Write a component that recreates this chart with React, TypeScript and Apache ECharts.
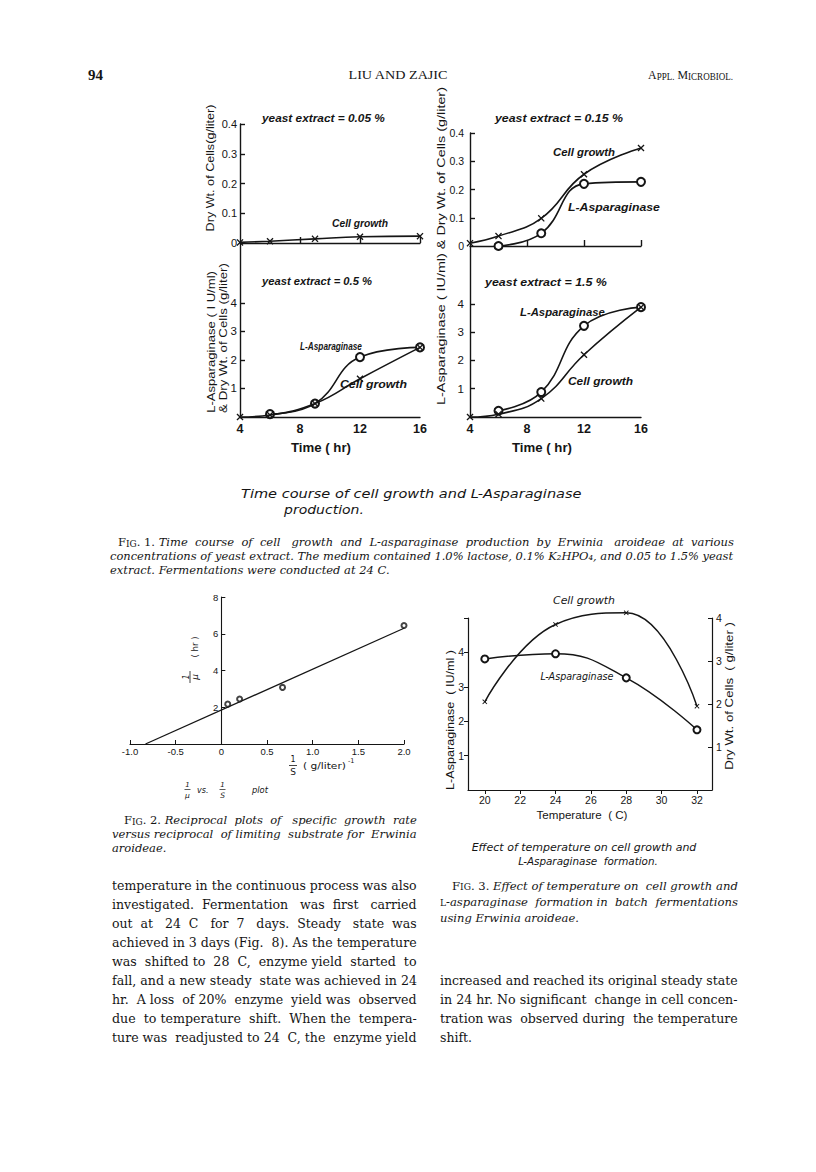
import React, { useEffect, useRef } from "react";
import * as echarts from "echarts";

// ---------------- Figure 1 : time course (yeast extract levels) ----------------
const timeHr = [4, 6, 9, 12, 16];
const aspTimeHr = [6, 9, 12, 16];
const cellYe005 = [0.002, 0.006, 0.014, 0.021, 0.023];
const cellYe05 = [0, 0.07, 0.47, 1.34, 2.44];
const aspYe05 = [0.1, 0.47, 2.1, 2.44];
const cellYe015 = [0.01, 0.035, 0.098, 0.254, 0.347];
const aspYe015 = [0.0, 0.045, 0.22, 0.227];
const cellYe15 = [0, 0.1, 0.65, 2.2, 3.88];
const aspYe15 = [0.22, 0.88, 3.22, 3.88];
const timeTicks = [4, 8, 12, 16];
const timeTopTicks = [8, 12, 16];
const dryTicks = [0, 0.1, 0.2, 0.3, 0.4];
const dryTickMarks = [0.1, 0.2, 0.3, 0.4];
const lowerTicks = [1, 2, 3, 4];

// ---------------- Figure 2 : reciprocal plot ----------------
const recipS = [0.07, 0.2, 0.67, 2.0];
const recipMu = [2.17, 2.45, 3.08, 6.45];
const fitS = [-0.83, 2.0];
const fitMu = [0, 6.3];
const fig2XTicks = [-1, -0.5, 0, 0.5, 1, 1.5, 2];
const fig2YTicks = [2, 4, 6, 8];

// ---------------- Figure 3 : temperature effect ----------------
const tempC = [20, 24, 28, 32];
const aspTemp = [3.81, 3.96, 3.26, 1.75];
const cellTemp = [2.05, 3.85, 4.12, 1.95];
const tempTicks = [20, 22, 24, 26, 28, 30, 32];
const aspTempTickMarks = [1, 2, 3, 4, 5];
const aspTempTicks = [1, 2, 3, 4];
const cellTempTicks = [1, 2, 3, 4];

// ---------------- page text ----------------
const bodyLeft = [
  "temperature in the continuous process was also",
  "investigated. Fermentation was first carried",
  "out at 24 C for 7 days. Steady state was",
  "achieved in 3 days (Fig. 8). As the temperature",
  "was shifted to 28 C, enzyme yield started to",
  "fall, and a new steady state was achieved in 24",
  "hr. A loss of 20% enzyme yield was observed",
  "due to temperature shift. When the tempera-",
  "ture was readjusted to 24 C, the enzyme yield",
];
const bodyRight = [
  "increased and reached its original steady state",
  "in 24 hr. No significant change in cell concen-",
  "tration was observed during the temperature",
  "shift.",
];

const ink = "#151515";
const sans = '"Liberation Sans", Arial, sans-serif';
const dsans = '"DejaVu Sans", sans-serif';
const serif = '"DejaVu Serif", serif';
const lserif = '"Liberation Serif", serif';
const NB = "\u00a0";
const XSYM =
  "path://M0,1.3L1.3,0L5,3.7L8.7,0L10,1.3L6.3,5L10,8.7L8.7,10L5,6.3L1.3,10L0,8.7L3.7,5Z";

let _ctx: CanvasRenderingContext2D | null = null;
function measure(text: string, font: string): number {
  if (!_ctx) _ctx = document.createElement("canvas").getContext("2d");
  _ctx!.font = font;
  return _ctx!.measureText(text).width || 1;
}

// pad word gaps with non-breaking spaces so the line nearly fills W
function justify(line: string, font: string, W: number) {
  const words = line.split(" ");
  const gaps = words.length - 1;
  const sp = measure(NB, font);
  const nat = measure(line, font);
  const k = gaps > 0 ? Math.max(0, Math.floor((W - nat) / sp)) : 0;
  const extra = new Array(Math.max(gaps, 0)).fill(0);
  for (let j = 0; j < k; j++) extra[Math.min(gaps - 1, Math.floor(((j + 0.5) * gaps) / k))]++;
  let out = words[0];
  for (let i = 0; i < gaps; i++) out += " " + NB.repeat(extra[i]) + words[i + 1];
  return { text: out, width: measure(out, font) };
}

type TO = {
  size: number;
  family?: string;
  style?: string;
  weight?: string | number;
  align?: string;
  valign?: string;
  width?: number;
  scale?: number;
  rotation?: number;
  justify?: number;
};
const fontOf = (o: TO) => `${o.style || "normal"} ${o.weight || "normal"} ${o.size}px ${o.family || sans}`;
function txt(text: string, x: number, y: number, o: TO): any {
  const font = fontOf(o);
  let t = text;
  let sx = o.scale || 1;
  if (o.justify) {
    const j = justify(text, font, o.justify);
    t = j.text;
    sx = o.justify / j.width;
  } else if (o.width) sx = o.width / measure(text, font);
  return {
    type: "text",
    x,
    y,
    rotation: o.rotation || 0,
    scaleX: sx,
    silent: true,
    z: 10,
    style: {
      text: t,
      font,
      fill: ink,
      textAlign: o.align || "left",
      align: o.align || "left",
      textVerticalAlign: o.valign || "middle",
      verticalAlign: o.valign || "middle",
    },
  };
}

type Seg = { t: string; size: number; style?: string; weight?: string; family?: string };
function rich(segs: Seg[], x: number, y: number, width: number, align = "left", just = false): any {
  let total = 0;
  let text = "";
  const r: any = {};
  segs.forEach((s, i) => {
    const fam = s.family || serif;
    const font = `${s.style || "normal"} ${s.weight || "normal"} ${s.size}px ${fam}`;
    let t = s.t;
    if (just && i === segs.length - 1) {
      const j = justify(t, font, width - total);
      t = j.text;
      total += j.width;
    } else total += measure(t, font);
    r["s" + i] = {
      fontSize: s.size,
      fontFamily: fam,
      fontStyle: s.style || "normal",
      fontWeight: s.weight || "normal",
      fill: ink,
      verticalAlign: "bottom",
    };
    text += `{s${i}|${t}}`;
  });
  return {
    type: "text",
    x,
    y,
    scaleX: width / total,
    silent: true,
    z: 10,
    style: {
      text,
      rich: r,
      fill: ink,
      textAlign: align,
      align,
      textVerticalAlign: "middle",
      verticalAlign: "middle",
    },
  };
}
function bar(x1: number, y1: number, x2: number, y2: number, w = 0.8): any {
  return { type: "line", silent: true, z: 10, shape: { x1, y1, x2, y2 }, style: { stroke: ink, lineWidth: w } };
}

const pair = (xs: number[], ys: number[]) => xs.map((x, i) => [x, ys[i]]);
const AL = { color: ink, width: 1.4 };

function ser(xi: number, yi: number, xs: number[], ys: number[], kind: "o" | "x", o: any = {}): any {
  return {
    type: "line",
    xAxisIndex: xi,
    yAxisIndex: yi,
    data: pair(xs, ys),
    smooth: o.smooth ?? 0.45,
    clip: false,
    symbol: kind === "o" ? "emptyCircle" : XSYM,
    symbolSize: kind === "o" ? o.os ?? 8 : o.xs ?? 7,
    lineStyle: { color: ink, width: o.lw ?? 1.6 },
    itemStyle:
      kind === "o"
        ? { color: ink, borderColor: ink, borderWidth: o.bw ?? 1.5 }
        : { color: ink, borderWidth: 0 },
    z: kind === "o" ? 3 : 4,
    silent: true,
  };
}

const fmt1 = (v: number) => (Math.abs(v) < 1e-9 ? "0" : v.toFixed(1));

function buildOption(): any {
  const grids = [
    { left: 240, top: 124, width: 180, height: 119 }, // 0 fig1 top-left
    { left: 240, top: 243, width: 180, height: 174 }, // 1 fig1 bottom-left
    { left: 470, top: 133, width: 171, height: 113 }, // 2 fig1 top-right
    { left: 470, top: 246, width: 171, height: 171 }, // 3 fig1 bottom-right
    { left: 130, top: 597, width: 274, height: 147 }, // 4 fig2
    { left: 468, top: 618, width: 244, height: 172 }, // 5 fig3
  ];
  const topX = (g: number) => ({
    type: "value",
    gridIndex: g,
    min: 4,
    max: 16,
    axisLine: { show: true, onZero: false, lineStyle: AL },
    axisTick: { show: true, inside: true, length: 6, customValues: timeTopTicks, lineStyle: AL },
    axisLabel: { show: false },
    splitLine: { show: false },
  });
  const botX = (g: number) => ({
    type: "value",
    gridIndex: g,
    min: 4,
    max: 16,
    axisLine: { show: true, onZero: false, lineStyle: AL },
    axisTick: { show: false },
    axisLabel: {
      customValues: timeTicks,
      fontSize: 12.5,
      fontWeight: "bold",
      fontFamily: sans,
      color: ink,
      margin: 5,
    },
    splitLine: { show: false },
  });
  const topY = (g: number, margin: number, size: number) => ({
    type: "value",
    gridIndex: g,
    min: 0,
    max: 0.4,
    axisLine: { show: true, onZero: false, lineStyle: AL },
    axisTick: { show: true, inside: true, length: 5, customValues: dryTickMarks, lineStyle: AL },
    axisLabel: {
      customValues: dryTicks,
      formatter: fmt1,
      fontSize: size,
      fontFamily: sans,
      color: ink,
      margin,
    },
    splitLine: { show: false },
  });
  const botY = (g: number, max: number, margin: number) => ({
    type: "value",
    gridIndex: g,
    min: 0,
    max,
    axisLine: { show: true, onZero: false, lineStyle: AL },
    axisTick: { show: true, inside: true, length: 5, customValues: lowerTicks, lineStyle: AL },
    axisLabel: {
      customValues: lowerTicks,
      fontSize: 11.5,
      fontFamily: sans,
      color: ink,
      margin,
    },
    splitLine: { show: false },
  });

  const xAxis = [
    topX(0),
    botX(1),
    topX(2),
    botX(3),
    {
      type: "value",
      gridIndex: 4,
      min: -1,
      max: 2,
      axisLine: { show: true, onZero: false, lineStyle: { color: ink, width: 1.1 } },
      axisTick: { show: true, inside: true, length: 4, customValues: fig2XTicks, lineStyle: { color: ink, width: 1 } },
      axisLabel: { customValues: fig2XTicks, formatter: fmt1, fontSize: 9.5, fontFamily: sans, color: ink, margin: 2 },
      splitLine: { show: false },
    },
    {
      type: "value",
      gridIndex: 5,
      min: 19.05,
      max: 32.85,
      axisLine: { show: true, onZero: false, lineStyle: { color: ink, width: 1.2 } },
      axisTick: { show: true, inside: false, length: 4, customValues: tempTicks, lineStyle: { color: ink, width: 1 } },
      axisLabel: { customValues: tempTicks, fontSize: 10.5, fontFamily: sans, color: ink, margin: 4 },
      splitLine: { show: false },
    },
  ];
  const yAxis = [
    topY(0, 3, 11),
    botY(1, 6.1, 3),
    topY(2, 6, 10.5),
    botY(3, 6.04, 6),
    {
      type: "value",
      gridIndex: 4,
      position: "left",
      offset: -91.33,
      min: 0,
      max: 8,
      axisLine: { show: true, onZero: false, lineStyle: { color: ink, width: 1.1 } },
      axisTick: { show: true, inside: true, length: 4, customValues: fig2YTicks, lineStyle: { color: ink, width: 1 } },
      axisLabel: { customValues: fig2YTicks, fontSize: 9.5, fontFamily: sans, color: ink, margin: 3 },
      splitLine: { show: false },
    },
    {
      type: "value",
      gridIndex: 5,
      position: "left",
      min: 0,
      max: 5,
      axisLine: { show: true, onZero: false, lineStyle: { color: ink, width: 1.2 } },
      axisTick: { show: true, inside: false, length: 4, customValues: aspTempTickMarks, lineStyle: { color: ink, width: 1 } },
      axisLabel: { customValues: aspTempTicks, fontSize: 10.5, fontFamily: sans, color: ink, margin: 4 },
      splitLine: { show: false },
    },
    {
      type: "value",
      gridIndex: 5,
      position: "right",
      min: 0,
      max: 4,
      axisLine: { show: true, onZero: false, lineStyle: { color: ink, width: 1.2 } },
      axisTick: { show: true, inside: true, length: 4, customValues: cellTempTicks, lineStyle: { color: ink, width: 1 } },
      axisLabel: { customValues: cellTempTicks, fontSize: 10.5, fontFamily: sans, color: ink, margin: 4 },
      splitLine: { show: false },
    },
  ];

  const series: any[] = [
    ser(0, 0, timeHr, cellYe005, "x"),
    ser(1, 1, aspTimeHr, aspYe05, "o"),
    ser(1, 1, timeHr, cellYe05, "x"),
    ser(2, 2, aspTimeHr, aspYe015, "o"),
    ser(2, 2, timeHr, cellYe015, "x"),
    ser(3, 3, aspTimeHr, aspYe15, "o"),
    ser(3, 3, timeHr, cellYe15, "x"),
    {
      type: "line",
      xAxisIndex: 4,
      yAxisIndex: 4,
      data: pair(fitS, fitMu),
      showSymbol: false,
      lineStyle: { color: ink, width: 1.3 },
      silent: true,
      z: 3,
    },
    {
      type: "scatter",
      xAxisIndex: 4,
      yAxisIndex: 4,
      data: pair(recipS, recipMu),
      symbol: "emptyCircle",
      symbolSize: 5,
      itemStyle: { color: ink, borderColor: ink, borderWidth: 1 },
      silent: true,
      z: 4,
    },
    ser(5, 5, tempC, aspTemp, "o", { smooth: 0.45, os: 7, lw: 1.5, bw: 1.2 }),
    ser(5, 6, tempC, cellTemp, "x", { smooth: 0.45, xs: 5, lw: 1.5 }),
  ];

  // ---------------- graphic texts ----------------
  const g: any[] = [];
  const it = "italic";
  // header
  g.push(txt("94", 88, 75, { size: 15, family: lserif, weight: "bold", width: 15 }));
  g.push(txt("LIU AND ZAJIC", 398, 75, { size: 13, family: lserif, align: "center", width: 100 }));
  g.push(
    rich(
      [
        { t: "A", size: 12.5, family: lserif },
        { t: "PPL.", size: 9.5, family: lserif },
        { t: " M", size: 12.5, family: lserif },
        { t: "ICROBIOL.", size: 9.5, family: lserif },
      ],
      733,
      75,
      85,
      "right"
    )
  );

  // fig 1 panel texts
  const pl = { size: 10.5, family: sans, style: it, weight: "bold" };
  g.push(txt("yeast extract = 0.05 %", 262, 118, { ...pl, width: 123 }));
  g.push(txt("Cell growth", 332, 223, { ...pl, width: 56 }));
  g.push(txt("yeast extract = 0.5 %", 262, 281, { ...pl, width: 110 }));
  g.push(txt("L-Asparaginase", 300, 346, { ...pl, width: 62 }));
  g.push(txt("Cell growth", 340, 384, { ...pl, width: 67 }));
  g.push(txt("yeast extract = 0.15 %", 495, 118, { ...pl, width: 128 }));
  g.push(txt("Cell growth", 553, 152, { ...pl, width: 62 }));
  g.push(txt("L-Asparaginase", 568, 207, { ...pl, width: 92 }));
  g.push(txt("yeast extract = 1.5 %", 485, 282, { ...pl, width: 122 }));
  g.push(txt("L-Asparaginase", 520, 312, { ...pl, width: 85 }));
  g.push(txt("Cell growth", 568, 381, { ...pl, width: 65 }));
  const yl = { size: 11, family: sans, align: "center", rotation: Math.PI / 2 };
  g.push(txt("Dry Wt. of Cells(g/liter)", 210, 168, { ...yl, width: 127 }));
  g.push(txt("L-Asparaginase ( I U/ml)", 211, 342, { ...yl, width: 142 }));
  g.push(txt("& Dry Wt. of Cells (g/liter)", 223, 338, { ...yl, width: 150 }));
  g.push(txt("L-Asparaginase ( IU/ml) & Dry Wt. of Cells (g/liter)", 441, 246, { ...yl, width: 318 }));
  g.push(txt("Time ( hr)", 321, 448, { size: 12.5, family: sans, weight: "bold", align: "center", width: 60 }));
  g.push(txt("Time ( hr)", 542, 448, { size: 12.5, family: sans, weight: "bold", align: "center", width: 60 }));

  // fig 1 title and caption
  g.push(txt("Time course of cell growth and L-Asparaginase", 241, 494, { size: 12, family: dsans, style: it, width: 341 }));
  g.push(txt("production.", 284, 510, { size: 12, family: dsans, style: it, width: 80 }));
  const cap = { size: 11.5, family: serif, style: it };
  g.push(
    rich(
      [
        { t: "F", size: 11.5 },
        { t: "IG", size: 9 },
        { t: ". 1. ", size: 11.5 },
        { t: "Time course of cell growth and L-asparaginase production by Erwinia aroideae at various", size: 11.5, style: it },
      ],
      118,
      542,
      616,
      "left",
      true
    )
  );
  const c1l2 = "concentrations of yeast extract. The medium contained 1.0% lactose, 0.1% K₂HPO₄, and 0.05 to 1.5% yeast";
  g.push(txt(c1l2, 110, 556, { ...cap, justify: 624 }));
  g.push(txt("extract. Fermentations were conducted at 24 C.", 110, 570, { ...cap }));

  // fig 2 texts
  g.push(txt("1", 186, 677, { size: 8, family: dsans, style: it, align: "center", rotation: Math.PI / 2 }));
  g.push(bar(190, 671, 190, 683));
  g.push(txt("μ", 194.5, 677, { size: 9, family: dsans, style: it, align: "center", rotation: Math.PI / 2 }));
  g.push(txt("( hr )", 195, 647, { size: 8.5, family: dsans, align: "center", rotation: Math.PI / 2 }));
  g.push(txt("1", 293, 759, { size: 8, family: dsans, align: "center" }));
  g.push(bar(289, 765.5, 297, 765.5));
  g.push(txt("S", 293, 772, { size: 9, family: dsans, align: "center" }));
  g.push(txt("( g/liter)", 303, 766, { size: 9, family: dsans, width: 43 }));
  g.push(txt("-1", 348, 761, { size: 6.5, family: dsans }));
  g.push(txt("1", 187.5, 785, { size: 7, family: dsans, style: it, align: "center" }));
  g.push(bar(184.5, 789.5, 190.5, 789.5, 0.7));
  g.push(txt("μ", 187.5, 795, { size: 7.5, family: dsans, style: it, align: "center" }));
  g.push(txt("vs.", 197, 790, { size: 8, family: dsans, style: it }));
  g.push(txt("1", 222.5, 785, { size: 7, family: dsans, style: it, align: "center" }));
  g.push(bar(219.5, 789.5, 225.5, 789.5, 0.7));
  g.push(txt("S", 222.5, 795, { size: 7.5, family: dsans, style: it, align: "center" }));
  g.push(txt("plot", 252, 790, { size: 8, family: dsans, style: it, width: 16 }));
  // fig 2 caption
  g.push(
    rich(
      [
        { t: "F", size: 11.5 },
        { t: "IG", size: 9 },
        { t: ". 2. ", size: 11.5 },
        { t: "Reciprocal plots of specific growth rate", size: 11.5, style: it },
      ],
      124,
      820,
      293,
      "left",
      true
    )
  );
  g.push(txt("versus reciprocal of limiting substrate for Erwinia", 112, 834, { ...cap, justify: 305 }));
  g.push(txt("aroideae.", 112, 848, { ...cap }));

  // fig 3 texts
  const f3 = { size: 10, family: dsans, style: it };
  g.push(txt("Cell growth", 584, 600, { ...f3, align: "center", width: 62 }));
  g.push(txt("L-Asparaginase", 577, 676, { ...f3, align: "center", width: 73 }));
  g.push(txt("L-Asparaginase  ( IU/ml )", 450, 720, { size: 11, family: sans, align: "center", rotation: Math.PI / 2, width: 140 }));
  g.push(txt("Dry Wt. of Cells  ( g/liter )", 729, 696, { size: 11, family: sans, align: "center", rotation: Math.PI / 2, width: 148 }));
  g.push(txt("Temperature  ( C)", 582, 815, { size: 10.5, family: sans, align: "center", width: 91 }));
  g.push(txt("Effect of temperature on cell growth and", 584, 847, { ...f3, align: "center", width: 225 }));
  g.push(txt("L-Asparaginase  formation.", 588, 862, { ...f3, align: "center", width: 140 }));
  g.push(
    rich(
      [
        { t: "F", size: 11.5 },
        { t: "IG", size: 9 },
        { t: ". 3. ", size: 11.5 },
        { t: "Effect of temperature on cell growth and", size: 11.5, style: it },
      ],
      452,
      886,
      286,
      "left",
      true
    )
  );
  g.push(
    rich(
      [
        { t: "L", size: 9 },
        { t: "-asparaginase formation in batch fermentations", size: 11.5, style: it },
      ],
      440,
      902,
      298,
      "left",
      true
    )
  );
  g.push(txt("using Erwinia aroideae.", 440, 918, { ...cap }));

  // body text
  const body = { size: 12.5, family: serif };
  bodyLeft.forEach((line, i) => {
    g.push(txt(line, 112, 886 + i * 18.9, { ...body, justify: 305 }));
  });
  bodyRight.forEach((line, i) => {
    const last = i === bodyRight.length - 1;
    g.push(txt(line, 440, 980.5 + i * 18.9, last ? { ...body } : { ...body, justify: 298 }));
  });

  return {
    animation: false,
    backgroundColor: "#ffffff",
    textStyle: { fontFamily: sans },
    grid: grids,
    xAxis,
    yAxis,
    series,
    graphic: { elements: g },
  };
}

export default function App() {
  const ref = useRef<HTMLDivElement>(null);
  useEffect(() => {
    const chart = echarts.init(ref.current!, undefined, { renderer: "svg" });
    chart.setOption(buildOption());
    return () => chart.dispose();
  }, []);
  return (
    <div
      ref={ref}
      style={{ position: "absolute", left: 0, top: 0, width: 816, height: 1172, background: "#fff" }}
    />
  );
}
